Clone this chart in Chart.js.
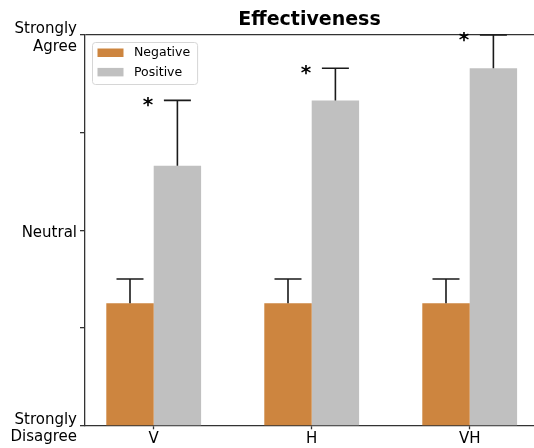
<!DOCTYPE html>
<html><head><meta charset="utf-8">
<script src="https://cdn.jsdelivr.net/npm/chart.js@4.4.1/dist/chart.umd.min.js"></script>
<style>html,body{margin:0;padding:0;background:#fff;overflow:hidden}</style>
</head><body>
<canvas id="c" width="534" height="448"></canvas>
<script>
const categories = ['V', 'H', 'VH'];
const negativeMeans = [2.25, 2.25, 2.25];
const negativeErrors = [0.25, 0.25, 0.25];
const positiveMeans = [3.66, 4.33, 4.66];
const positiveErrors = [0.67, 0.33, 0.34];
const significant = [true, true, true];
const yTickValues = [1, 2, 3, 4, 5];
const yTickLabels = { 1: ['Strongly', 'Disagree'], 3: 'Neutral', 5: ['Strongly', 'Agree'] };
const seriesLabels = ['Negative', 'Positive'];
const seriesColors = ['#CD853F', '#C0C0C0'];

const FONT = "'DejaVu Sans', sans-serif";
const AXIS = '#333333';
const errorSets = [negativeErrors, positiveErrors];

const extrasPlugin = {
  id: 'extras',
  afterDatasetsDraw(chart) {
    const ctx = chart.ctx;
    const ys = chart.scales.y;
    ctx.save();
    ctx.strokeStyle = '#1a1a1a';
    ctx.lineWidth = 1.6;
    chart.data.datasets.forEach((ds, i) => {
      const meta = chart.getDatasetMeta(i);
      const errs = errorSets[i];
      meta.data.forEach((el, j) => {
        const v = ds.data[j].y;
        const yTop = ys.getPixelForValue(v + errs[j]);
        ctx.beginPath();
        ctx.moveTo(el.x, el.y);
        ctx.lineTo(el.x, yTop);
        ctx.moveTo(el.x - 13.5, yTop);
        ctx.lineTo(el.x + 13.5, yTop);
        ctx.stroke();
        if (i === 1 && significant[j]) {
          ctx.fillStyle = '#000';
          ctx.font = 'bold 20px ' + FONT;
          ctx.textAlign = 'center';
          ctx.textBaseline = 'alphabetic';
          ctx.fillText('*', el.x - 29.5, yTop + 4.5 + 6.5);
        }
      });
    });
    ctx.restore();
  },
  afterDraw(chart) {
    const ctx = chart.ctx;
    const ca = chart.chartArea;
    ctx.save();
    ctx.font = '12.5px ' + FONT;
    let maxW = 0;
    seriesLabels.forEach(t => { maxW = Math.max(maxW, ctx.measureText(t).width); });
    const left = ca.left + 7, top = ca.top + 7;
    const w = 5.5 + 26 + 10.5 + maxW + 7;
    const h = 42;
    ctx.beginPath();
    ctx.roundRect(left + 0.5, top + 0.5, w, h, 3);
    ctx.fillStyle = 'rgba(255,255,255,0.8)';
    ctx.fill();
    ctx.strokeStyle = '#d6d6d6';
    ctx.lineWidth = 1;
    ctx.stroke();
    chart.data.datasets.forEach((ds, i) => {
      const rowY = top + 6.5 + i * 19.4;
      ctx.fillStyle = ds.backgroundColor;
      ctx.fillRect(left + 5.5, rowY, 26, 8.5);
      ctx.fillStyle = '#000';
      ctx.textAlign = 'left';
      ctx.textBaseline = 'middle';
      ctx.fillText(ds.label, left + 42, rowY + 4.5);
    });
    ctx.restore();
  }
};

new Chart(document.getElementById('c'), {
  type: 'bar',
  data: {
    datasets: [
      { label: seriesLabels[0], data: categories.map((c, i) => ({ x: i, y: negativeMeans[i] })), backgroundColor: seriesColors[0] },
      { label: seriesLabels[1], data: categories.map((c, i) => ({ x: i, y: positiveMeans[i] })), backgroundColor: seriesColors[1] }
    ]
  },
  options: {
    responsive: false,
    animation: false,
    devicePixelRatio: 1,
    categoryPercentage: 0.6,
    barPercentage: 1.0,
    layout: { padding: { left: 0, right: 0, top: 0, bottom: 0 } },
    plugins: {
      legend: { display: false },
      tooltip: { enabled: false },
      title: {
        display: true,
        text: 'Effectiveness',
        fullSize: false,
        color: '#000',
        font: { family: FONT, size: 19, weight: 'bold', lineHeight: 1.2 },
        padding: { top: 9, bottom: 3.2 }
      }
    },
    scales: {
      x: {
        type: 'linear',
        offset: false,
        min: -0.4348,
        max: 2.407,
        afterBuildTicks(scale) { scale.ticks = categories.map((c, i) => ({ value: i })); },
        afterFit(scale) { scale.height = 22.7; },
        ticks: {
          callback: (v) => categories[v],
          color: '#000',
          font: { family: FONT, size: 15 },
          padding: 1,
          maxRotation: 0,
          autoSkip: false
        },
        grid: { offset: false, drawOnChartArea: false, drawTicks: true, tickLength: 4, tickColor: AXIS, tickWidth: 1.3 },
        border: { display: true, color: AXIS, width: 1.3 }
      },
      y: {
        min: 1,
        max: 5,
        afterBuildTicks(scale) { scale.ticks = yTickValues.map(v => ({ value: v })); },
        afterFit(scale) { scale.width = 85; },
        ticks: {
          callback: (v) => (yTickLabels[v] !== undefined ? yTickLabels[v] : ''),
          color: '#000',
          font: { family: FONT, size: 15, lineHeight: 1.15 },
          padding: 3,
          labelOffset: 3,
          autoSkip: false
        },
        grid: {
          drawOnChartArea: true,
          drawTicks: true,
          tickLength: 5,
          tickColor: AXIS,
          tickWidth: 1.3,
          lineWidth: 1.3,
          color: (c) => (c.tick && c.tick.value === 5 ? AXIS : 'rgba(0,0,0,0)')
        },
        border: { display: true, color: AXIS, width: 1.3 }
      }
    }
  },
  plugins: [extrasPlugin]
});
</script>
</body></html>
